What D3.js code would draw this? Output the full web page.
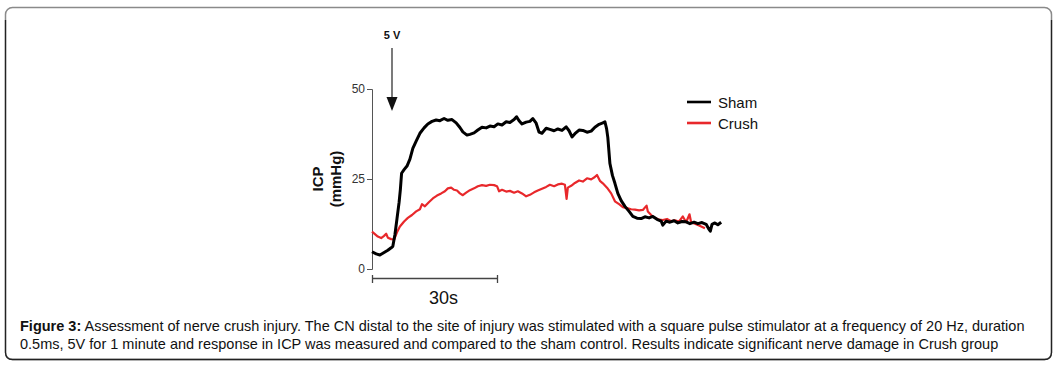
<!DOCTYPE html>
<html><head><meta charset="utf-8">
<script src="https://cdn.jsdelivr.net/npm/d3@7"></script>
<style>
html,body{margin:0;padding:0;background:#fff;}
svg{display:block;font-family:"Liberation Sans",Arial,sans-serif;}
</style></head>
<body>
<svg id="c" width="1057" height="367"></svg>
<script>
// ---- data (time in seconds, ICP in mmHg) ----
const seriesNames = ["Sham", "Crush"];
const seriesColors = ["#000000", "#e8282b"];
const yTicks = [0, 25, 50];
const scaleBarSeconds = 30;
const scaleBarLabel = "30s";
const stimulusLabel = "5 V";
const stimulusTime = 4.8;

const shamTime = [0,1,1.9,2.9,3.8,4.6,5.0,5.5,6.0,6.5,6.8,7.1,7.7,8.4,9.1,9.8,10.6,11.5,12.5,13.4,14.4,15.4,16.3,17.3,18.2,19.2,20.2,21.1,21.8,22.8,23.5,24.5,25.4,26.4,27.4,28.3,29.3,30.2,31.2,32.2,33.1,34.1,34.7,35.3,36,37,37.9,38.6,39.4,40.1,40.8,41.8,42.7,43.7,44.6,45.6,46.6,47.3,48,48.7,49.7,50.6,51.6,52.6,53.5,54.5,55.4,55.9,56.3,56.6,57.1,57.7,58.3,59,59.8,60.7,61.7,62.6,63.6,64.6,65.5,66.5,67.4,68.4,69.4,69.8,70.6,71.5,72.5,73.4,74.4,75.4,76.3,77.3,78.2,79.2,80.2,80.9,81.2,81.6,82.3,83,83.8];
const shamICP = [4.8,4.2,3.9,4.6,5.2,5.9,6.3,9.5,14,18.5,22,26.6,27.6,28.6,30.5,33.5,35.5,37.7,39.2,40.3,41.0,41.4,41.2,41.8,41.3,41.5,40.6,39.3,38.1,37.2,37.4,37.8,38.6,39.4,39.2,39.7,39.5,40.3,40.0,40.9,40.7,41.5,42.3,41.2,40.3,40.8,41.0,41.8,40.5,38.0,37.7,39.1,38.8,38.4,38.9,38.5,39.5,38.4,36.7,37.6,38.6,38.5,38.0,38.3,39.4,40.2,40.6,40.9,39,36.5,29.3,26,23.8,21,19,17.4,16,14.6,14.1,14.0,14.5,14.2,14.6,13.8,13.3,12.2,13.3,13.0,13.4,12.8,13.2,13.1,12.6,13.0,12.6,12.9,12.4,11.0,10.5,12.4,12.8,12.3,13.0];

const crushTime = [0,0.7,1.4,2.2,2.9,3.4,3.8,4.6,5.3,6,6.7,7.7,8.6,9.6,10.6,11.5,12,12.7,13.7,14.6,15.6,16.6,17.5,18.2,19,19.7,20.4,21.1,21.8,22.6,23.5,24.5,25.4,26.4,27.4,28.3,29.3,30,30.5,31.2,32.2,33.1,34.1,35,36,37,37.9,38.9,39.8,40.8,41.8,42.7,43.7,44.6,45.6,46.3,46.7,47,47.8,48.7,49.7,50.6,51.6,52.6,53.3,54,54.7,55.4,56.4,57.4,58.3,59.3,60.2,61.2,62.2,63.1,64.1,65,65.9,66.2,67,67.9,68.9,69.8,70.8,71.8,72.7,73.7,74.6,75.4,76.2,76.6,77.5,78.5,79.4,79.9];
const crushICP = [10.4,9.7,9.0,8.6,9.2,9.8,8.7,8.3,8.2,10.2,11.8,13.2,14.2,15.0,16.0,16.6,18.0,17.4,18.6,19.6,20.4,21.0,21.6,22.4,22.6,22.0,21.8,21.0,20.5,21.2,21.9,22.4,23.0,23.3,23.1,23.4,23.3,23.0,21.6,22.0,21.5,21.7,21.2,21.6,21.0,20.2,20.6,21.3,21.8,22.3,22.8,23.4,23.0,23.5,23.7,23.4,19.5,22.6,23.1,23.9,24.6,24.3,25.2,24.9,25.4,26.1,24.5,23.8,22.6,21.0,18.8,18.0,17.2,16.9,16.6,16.5,16.3,16.4,17.6,16.0,15.0,14.2,13.7,13.6,13.9,13.3,13.5,13.2,14.6,13.0,15.2,12.9,12.6,12.1,11.6,11.3];

const captionBold = "Figure 3:";
const captionLine1 = " Assessment of nerve crush injury. The CN distal to the site of injury was stimulated with a square pulse stimulator at a frequency of 20 Hz, duration";
const captionLine2 = "0.5ms, 5V for 1 minute and response in ICP was measured and compared to the sham control. Results indicate significant nerve damage in Crush group";

// ---- drawing ----
const svg = d3.select("#c");

// frame
svg.append("rect").attr("x",5.5).attr("y",7.5).attr("width",1046).attr("height",352)
  .attr("rx",7).attr("fill","none").attr("stroke","#8a8a8a").attr("stroke-width",1.5);
svg.append("path")
  .attr("d","M5.5,20 L5.5,352.5 Q5.5,359.5 12.5,359.5 L1044.5,359.5 Q1051.5,359.5 1051.5,352.5 L1051.5,20")
  .attr("fill","none").attr("stroke","#222").attr("stroke-width",1.3);

const x = d3.scaleLinear().domain([0, scaleBarSeconds]).range([372, 497]);
const y = d3.scaleLinear().domain([0, 50]).range([269, 89]);

// y axis
const yAxis = svg.append("g").attr("transform","translate(372,0)")
  .call(d3.axisLeft(y).tickValues(yTicks).tickSize(5).tickPadding(2));
yAxis.select(".domain").attr("stroke","#555").attr("stroke-width",1);
yAxis.selectAll(".tick line").attr("stroke","#555");
yAxis.selectAll(".tick text").attr("font-size",12).attr("fill","#333")
  .attr("font-family","'Liberation Sans',Arial,sans-serif");

// y label
const yl = svg.append("text").attr("transform","translate(323,179) rotate(-90)")
  .attr("text-anchor","middle").attr("font-weight","bold").attr("font-size",15).attr("fill","#111");
yl.append("tspan").attr("x",0).attr("dy",0).text("ICP");
yl.append("tspan").attr("x",0).attr("dy",18).text("(mmHg)");

// scale bar via axis
const sb = svg.append("g").attr("transform","translate(0,278)")
  .call(d3.axisBottom(x).tickValues([0, scaleBarSeconds]).tickSizeInner(4).tickSizeOuter(0).tickFormat(""));
sb.select(".domain").attr("stroke","#444").attr("stroke-width",1.3);
sb.selectAll(".tick line").attr("stroke","#444").attr("stroke-width",1.3).attr("y1",-3).attr("y2",5);
svg.append("text").attr("x",x(scaleBarSeconds/2)+9).attr("y",304).attr("text-anchor","middle")
  .attr("font-size",18).attr("fill","#111").text(scaleBarLabel);

// stimulus arrow
const ax = x(stimulusTime);
svg.append("text").attr("x",ax).attr("y",39).attr("text-anchor","middle")
  .attr("font-weight","bold").attr("font-size",11).attr("fill","#111").text(stimulusLabel);
svg.append("line").attr("x1",ax).attr("x2",ax).attr("y1",48).attr("y2",99)
  .attr("stroke","#222").attr("stroke-width",1.2);
svg.append("path").attr("d",`M${ax-5.5},97 L${ax+5.5},97 L${ax},111 Z`).attr("fill","#111");

// series
const line = d3.line().x(d=>x(d[0])).y(d=>y(d[1]));
const crush = d3.zip(crushTime, crushICP);
const sham = d3.zip(shamTime, shamICP);
svg.append("path").datum(crush).attr("d",line).attr("fill","none")
  .attr("stroke",seriesColors[1]).attr("stroke-width",2.2).attr("stroke-linejoin","round");
svg.append("path").datum(sham).attr("d",line).attr("fill","none")
  .attr("stroke",seriesColors[0]).attr("stroke-width",3).attr("stroke-linejoin","round");

// legend
seriesNames.forEach((n,i)=>{
  const ly = 102 + i*21;
  svg.append("line").attr("x1",687).attr("x2",711).attr("y1",ly).attr("y2",ly)
    .attr("stroke",seriesColors[i]).attr("stroke-width",2.6);
  svg.append("text").attr("x",718).attr("y",ly+5.5).attr("font-size",15).attr("fill","#111").text(n);
});

// caption
const c1 = svg.append("text").attr("x",20).attr("y",331).attr("font-size",14.5).attr("fill","#111");
c1.append("tspan").attr("font-weight","bold").text(captionBold);
c1.append("tspan").text(captionLine1);
svg.append("text").attr("x",20).attr("y",349).attr("font-size",14.5).attr("fill","#111").text(captionLine2);
</script>
</body></html>
